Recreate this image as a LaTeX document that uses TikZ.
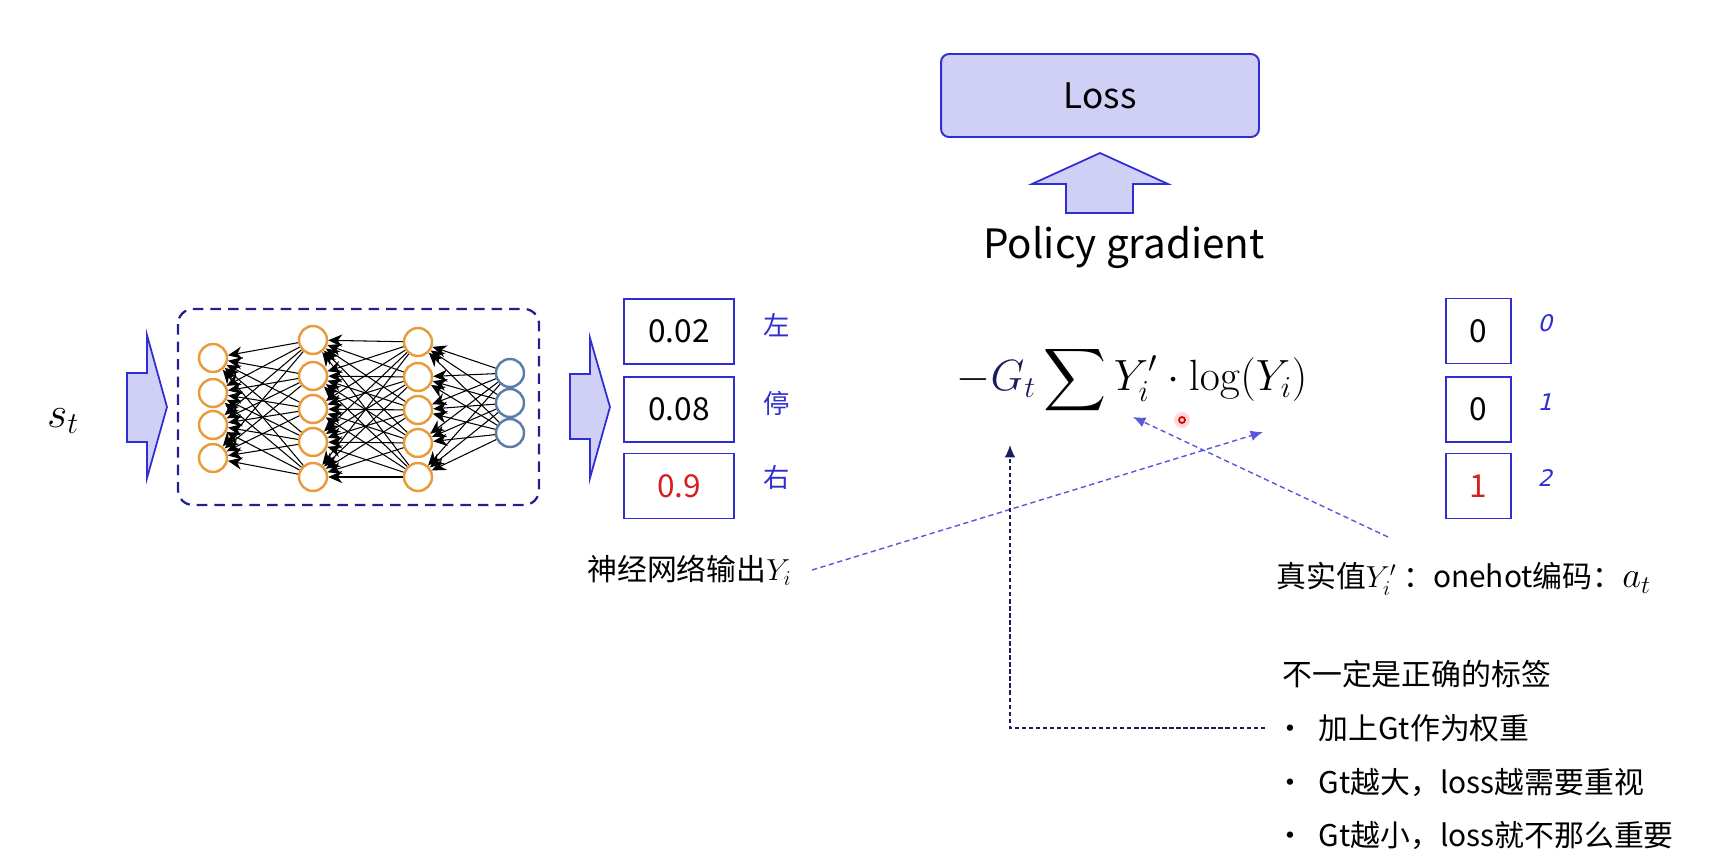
\documentclass[tikz,border=0pt]{standalone}
\usepackage{amsmath}
\usepackage[no-math]{fontspec}
\setmainfont{Noto Sans CJK SC}
\newfontfamily\handfont[FakeSlant=0.25]{DejaVu Sans}
\usetikzlibrary{arrows.meta,positioning}

\definecolor{boxblue}{HTML}{2E2ED2}
\definecolor{fillblue}{HTML}{D0D0F7}
\definecolor{unitorange}{HTML}{E99A3A}
\definecolor{unitblue}{HTML}{5A7CA8}
\definecolor{navy}{HTML}{1C1C5C}
\definecolor{valred}{HTML}{D42020}

\tikzset{
  valbox/.style={draw=boxblue, line width=1.1pt, minimum width=2.2cm, minimum height=1.3cm,
    inner sep=0pt, font=\fontsize{18}{18}\selectfont},
  hotbox/.style={valbox, minimum width=1.3cm},
  unit/.style={circle, draw=unitorange, line width=1.4pt, fill=white, minimum size=0.56cm, inner sep=0pt},
  outunit/.style={unit, draw=unitblue},
  link/.style={-{Stealth[length=8pt,width=7pt]}, line width=0.6pt},
  blockarrow/.style={draw=boxblue, fill=fillblue, line width=1pt, line join=miter},
  tag/.style={text=boxblue, font=\fontsize{15}{15}\selectfont},
  hand/.style={text=boxblue, font=\fontsize{13}{13}\handfont},
  note/.style={font=\fontsize{17}{20}\selectfont, inner sep=0pt},
  pointer/.style={draw=boxblue!80, densely dashed, line width=0.8pt, -{Latex[length=7pt,width=6pt]}}
}

\begin{document}
\begin{tikzpicture}[x=0.02cm, y=-0.02cm]
\useasboundingbox (0,0) rectangle (1725,866);

% input and network
\node (state) at (63,421) {\fontsize{25}{28}\selectfont $s_t$};
\draw[blockarrow] (127,373) -- (147,373) -- (147,335) -- (167,407) -- (147,478) -- (147,442) -- (127,442) -- cycle;
\draw[draw=boxblue!70!black, line width=1.3pt, dash pattern=on 6pt off 4pt, rounded corners=0.3cm]
  (178,309) rectangle (539,505);

\foreach \y [count=\i] in {358,393,425,458} \node[unit] (a\i) at (213,\y) {};
\foreach \y [count=\i] in {340,376,409,442,477} \node[unit] (b\i) at (313,\y) {};
\foreach \y [count=\i] in {342,377,410,443,477} \node[unit] (c\i) at (418,\y) {};
\foreach \y [count=\i] in {373,403,433} \node[outunit] (d\i) at (510,\y) {};

\foreach \j in {1,...,5} \foreach \i in {1,...,4} \draw[link] (b\j) -- (a\i);
\foreach \j in {1,...,5} \foreach \i in {1,...,5} \draw[link] (c\j) -- (b\i);
\foreach \j in {1,...,3} \foreach \i in {1,...,5} \draw[link] (d\j) -- (c\i);

% output probabilities
\draw[blockarrow] (570,374) -- (590,374) -- (590,338) -- (610,407) -- (590,478) -- (590,439) -- (570,439) -- cycle;
\node[valbox] (p1) at (679,331.5) {0.02};
\node[valbox] (p2) at (679,409.5) {0.08};
\node[valbox, text=valred] (p3) at (679,486) {0.9};
\node[tag] at (777,325) {左};
\node[tag] at (777,403) {停};
\node[tag] at (777,477) {右};
\node[note, anchor=east] (netout) at (792,570) {神经网络输出$Y_i$};

% loss
\node[draw=boxblue, fill=fillblue, line width=1.1pt, rounded corners=0.16cm, minimum width=6.36cm,
  minimum height=1.66cm, font=\fontsize{20}{20}\selectfont] (loss) at (1100,95.5) {Loss};
\draw[blockarrow] (1066,213) -- (1066,184) -- (1032,184) -- (1100,153) -- (1168,184) -- (1133,184) -- (1133,213) -- cycle;
\node[font=\fontsize{23}{27}\selectfont] (pg) at (1124,247) {Policy gradient};
\node[font=\fontsize{27}{32}\selectfont] (eq) at (1132,380)
  {$\displaystyle -{\color{navy}G_t}\sum Y_i'\cdot\log(Y_i)$};

% one-hot target
\node[hotbox] (h1) at (1478.5,331) {0};
\node[hotbox] (h2) at (1478.5,409.5) {0};
\node[hotbox, text=valred] (h3) at (1478.5,486) {1};
\node[hand] at (1545,323) {0};
\node[hand] at (1545,402) {1};
\node[hand] at (1545,478) {2};
\node[note, anchor=west] (truth) at (1276,579)
  {真实值$Y_i'$ ：onehot编码：{\fontsize{22}{22}\selectfont$a_t$}};

% notes on G_t
\node[note, anchor=west] (n0) at (1282,674) {不一定是正确的标签};
\node[note, anchor=west] (n1) at (1275,728) {•\hspace{0.45em}加上Gt作为权重};
\node[note, anchor=west] (n2) at (1275,783) {•\hspace{0.45em}Gt越大，loss越需要重视};
\node[note, anchor=west] (n3) at (1275,836) {•\hspace{0.45em}Gt越小，loss就不那么重要};

% pointers
\coordinate (ytip) at (1263,432);
\coordinate (ptip) at (1133,417);
\coordinate (tstart) at (1388,537);
\coordinate (gtip) at (1010,445);
\draw[pointer] ([xshift=0.4cm]netout.east) -- (ytip);
\draw[pointer] (tstart) -- (ptip);
\draw[draw=navy, line width=0.8pt, dash pattern=on 2.5pt off 1.5pt, -{Latex[length=7pt,width=6pt]}]
  ([xshift=-0.2cm]n1.west) -- (1010,728) -- (gtip);

% laser dot
\fill[red!15] (1182,420) circle (8);
\draw[red!85!black, line width=1pt] (1182,420) circle (3);
\end{tikzpicture}
\end{document}
